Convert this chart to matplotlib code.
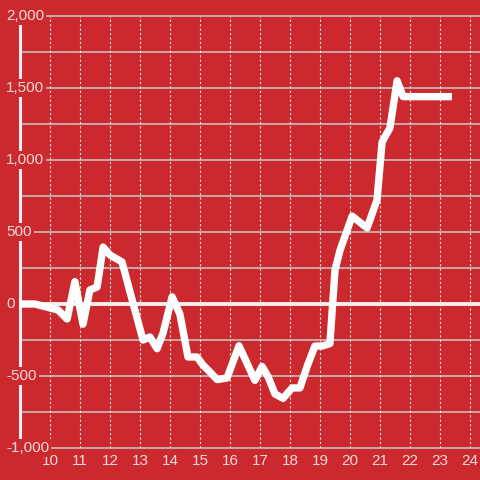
import matplotlib.pyplot as plt

# ---------- data ----------
x_vals = [9.0, 9.5, 10.27, 10.57, 10.83, 11.1, 11.33, 11.57, 11.77, 12.0,
          12.4, 12.75, 13.1, 13.33, 13.57, 13.77, 14.07, 14.33, 14.6, 14.9,
          15.1, 15.33, 15.57, 15.9, 16.3, 16.83, 17.07, 17.27, 17.5, 17.77,
          18.07, 18.33, 18.57, 18.83, 19.07, 19.33, 19.5, 19.67, 20.07, 20.57,
          20.9, 21.07, 21.33, 21.57, 21.77, 23.4]
y_vals = [0, 0, -42, -104, 155, -140, 97, 118, 395, 340,
          292, 20, -250, -229, -310, -201, 50, -70, -368, -368,
          -424, -472, -525, -514, -290, -530, -434, -505, -625, -655,
          -583, -583, -434, -292, -292, -275, 236, 375, 610, 528,
          722, 1125, 1222, 1550, 1440, 1440]

x_ticks = list(range(10, 25))
y_ticks = [-1000, -500, 0, 500, 1000, 1500, 2000]
y_labels = ["-1,000", "-500", "0", "500", "1,000", "1,500", "2,000"]

RED = "#cc292e"
TXT = "#f4dada"

fig = plt.figure(figsize=(4.8, 4.8), dpi=100, facecolor=RED)
ax = fig.add_axes([20 / 480, 32 / 480, 460 / 480, 432 / 480])
ax.set_facecolor(RED)
ax.set_xlim(9, 9 + 460 / 30)
ax.set_ylim(-1000, 2000)

for s in ax.spines.values():
    s.set_visible(False)

# grid
for yv in range(-1000, 2001, 250):
    ax.axhline(yv, color="#c9c9c9", lw=1.1, zorder=1, clip_on=False)
for xv in x_ticks:
    ax.axvline(xv, color="#e6e6e6", lw=0.8, ls=(0, (2, 2)), zorder=1)
ax.axvline(9, color="#f0f0f0", lw=2.2, zorder=1.5, clip_on=False)
ax.axhline(0, color="#f0f0f0", lw=2.8, zorder=1.6)

# y labels with background boxes over the axis line
for yv, lab in zip(y_ticks, y_labels):
    ax.text(-14 / 460, yv, lab, transform=ax.get_yaxis_transform(),
            ha="left", va="center", fontsize=11, color=TXT,
            family="Liberation Sans", clip_on=False, zorder=3,
            bbox=dict(facecolor=RED, edgecolor="none", pad=1.5))

ax.plot(x_vals, y_vals, color="white", lw=5.3, zorder=4,
        solid_capstyle="butt", solid_joinstyle="round", clip_on=False)

ax.set_yticks([])
ax.set_xticks(x_ticks)
ax.set_xticklabels([str(v) for v in x_ticks], fontsize=11, color=TXT,
                   family="Liberation Sans")
ax.tick_params(axis="x", length=0, pad=4)

fig.savefig("out.png", dpi=100, facecolor=RED)
